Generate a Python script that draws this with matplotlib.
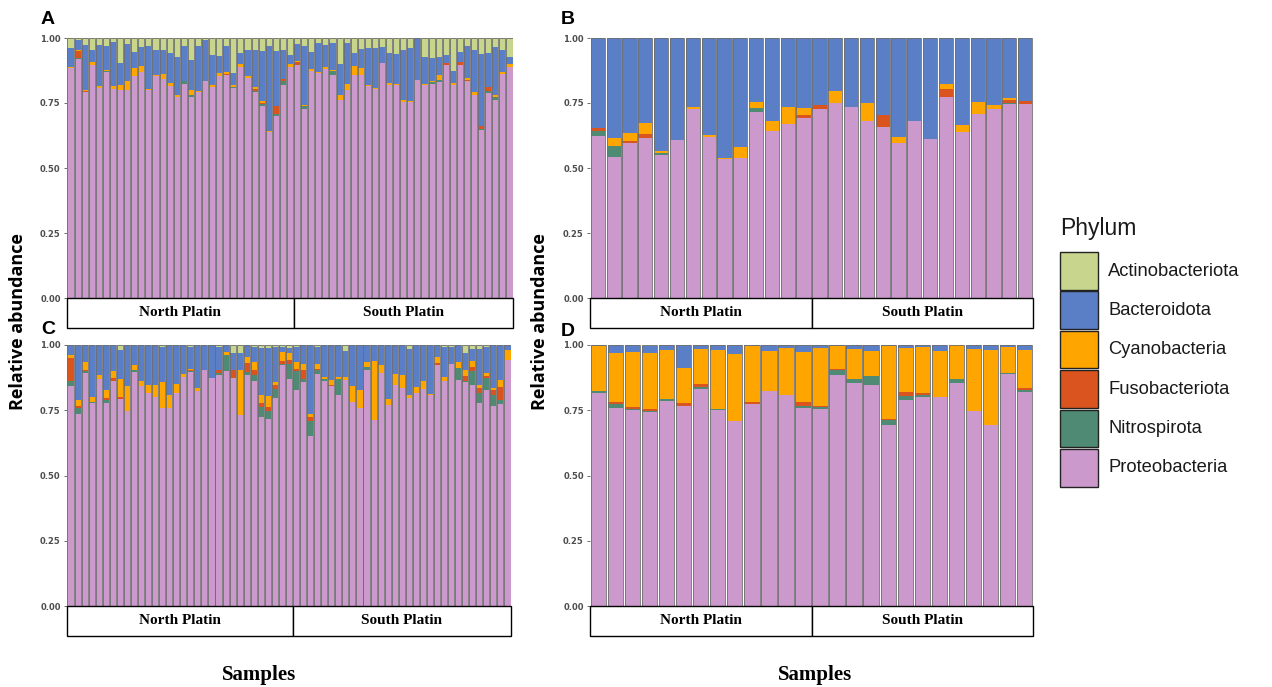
import matplotlib
matplotlib.use("Agg")
import matplotlib.pyplot as plt
from matplotlib.patches import Rectangle
import numpy as np

# ---------------- data ----------------
phyla = ["Actinobacteriota", "Bacteroidota", "Cyanobacteria", "Fusobacteriota", "Nitrospirota", "Proteobacteria"]
colors = ["#c8d68d", "#5b7fc6", "#ffa500", "#d9541f", "#4f8a74", "#cc99cc"]
groups = ["North Platin", "South Platin"]

# Panel A (32 North + 31 South)
A_n = [32, 31]
A_actino = [0.038,0.009,0.028,0.045,0.028,0.032,0.015,0.096,0.023,0.054,0.036,0.032,0.045,0.045,0.058,0.074,
            0.032,0.086,0.032,0.009,0.067,0.071,0.032,0.135,0.058,0.045,0.045,0.049,0.032,0.051,0.045,0.067,
            0.023,0.029,0.054,0.019,0.026,0.019,0.099,0.019,0.058,0.041,0.038,0.038,0.036,0.058,0.062,0.047,
            0.038,0.000,0.073,0.077,0.073,0.064,0.126,0.054,0.032,0.045,0.062,0.058,0.036,0.047,0.073]
A_bact = [0.073,0.036,0.171,0.047,0.158,0.092,0.171,0.083,0.141,0.062,0.073,0.164,0.096,0.094,0.115,0.146,
          0.135,0.115,0.171,0.158,0.113,0.064,0.100,0.045,0.041,0.103,0.145,0.195,0.324,0.212,0.112,0.033,
          0.064,0.229,0.065,0.113,0.087,0.103,0.119,0.156,0.049,0.074,0.141,0.154,0.060,0.115,0.114,0.192,
          0.205,0.163,0.103,0.087,0.071,0.032,0.047,0.038,0.122,0.164,0.278,0.132,0.185,0.085,0.026]
A_cyano = [0.006,0.004,0.005,0.010,0.006,0.003,0.010,0.022,0.035,0.032,0.023,0.005,0.006,0.018,0.013,0.005,
           0.000,0.017,0.004,0.000,0.008,0.013,0.005,0.009,0.012,0.006,0.006,0.006,0.004,0.000,0.000,0.013,
           0.005,0.005,0.006,0.003,0.005,0.004,0.022,0.026,0.035,0.026,0.004,0.004,0.000,0.009,0.006,0.006,
           0.003,0.000,0.006,0.006,0.017,0.000,0.009,0.000,0.006,0.012,0.000,0.000,0.008,0.006,0.013]
A_fuso = [0,0.028,0.005,0,0,0,0,0,0,0,0,0,0,0,0,0,
          0,0,0,0,0,0,0.004,0,0,0,0.006,0.005,0.003,0.029,0.010,0,
          0.010,0,0,0,0,0,0,0,0,0,0,0,0,0,0,0,
          0,0,0,0,0,0.009,0,0.010,0.006,0,0.009,0.012,0,0,0]
A_nitro = [0,0.004,0,0,0,0.003,0,0,0,0,0,0,0,0,0,0,
           0.009,0.008,0,0,0,0,0,0.004,0,0,0.005,0.008,0,0.006,0.013,0,
           0,0.008,0,0,0,0.018,0,0,0,0,0,0,0,0,0,0,
           0,0,0,0.006,0.009,0,0,0,0,0,0.005,0.010,0.009,0,0]
A_proteo = [0.882,0.919,0.791,0.897,0.808,0.869,0.804,0.799,0.801,0.853,0.868,0.799,0.853,0.844,0.814,0.774,
            0.824,0.774,0.794,0.833,0.813,0.853,0.859,0.808,0.890,0.846,0.792,0.737,0.637,0.701,0.821,0.887,
            0.897,0.728,0.874,0.865,0.882,0.856,0.760,0.799,0.859,0.859,0.817,0.804,0.904,0.818,0.818,0.754,
            0.754,0.837,0.818,0.823,0.831,0.895,0.818,0.897,0.833,0.779,0.646,0.788,0.763,0.862,0.888]

# Panel B (14 + 14)
B_n = [14, 14]
B_actino = [0]*28
B_bact = [0.347,0.386,0.364,0.328,0.435,0.392,0.264,0.374,0.460,0.418,0.245,0.318,0.267,0.268,
          0.258,0.204,0.264,0.251,0.296,0.382,0.318,0.390,0.178,0.335,0.247,0.258,0.229,0.242]
B_cyano = [0,0.029,0.031,0.043,0.006,0,0.010,0.005,0.007,0.042,0.026,0.038,0.065,0.028,
           0,0.047,0,0.068,0,0.023,0,0,0.018,0.025,0.047,0.015,0.011,0]
B_fuso = [0.011,0,0.010,0.012,0,0,0,0,0,0,0,0,0,0.013,
          0.015,0,0,0,0.045,0,0,0,0.030,0,0,0,0.009,0.012]
B_nitro = [0.019,0.044,0,0,0.009,0,0,0,0,0,0.012,0,0,0,
           0,0,0,0,0,0,0,0,0,0,0,0,0.006,0]
B_proteo = [0.623,0.541,0.595,0.617,0.550,0.608,0.726,0.621,0.533,0.540,0.717,0.644,0.668,0.691,
            0.727,0.749,0.736,0.681,0.659,0.595,0.682,0.610,0.774,0.640,0.706,0.727,0.745,0.746]

# Panel C (32 North + 31 South)
C_n = [32, 31]
C_actino = [0,0,0,0,0,0,0,0.018,0,0,0,0,0,0.008,0,0,0,0.008,0,0,0,0.008,0,0.031,0.031,0,0.008,0.011,0.011,0.008,0.008,0.011,
            0.009,0,0,0.008,0,0,0,0.022,0,0,0,0,0,0,0,0,0.014,0,0,0,0,0.008,0.008,0,0.031,0.015,0.014,0.008,0,0,0]
C_bact = [0.040,0.209,0.065,0.201,0.116,0.171,0.101,0.111,0.158,0.078,0.139,0.152,0.152,0.132,0.190,0.149,
          0.111,0.083,0.165,0.097,0.126,0.089,0.027,0.066,0.064,0.046,0.057,0.179,0.185,0.135,0.020,0.019,
          0.056,0.073,0.264,0.065,0.124,0.133,0.123,0.101,0.158,0.171,0.065,0.063,0.075,0.207,0.111,0.114,
          0.176,0.161,0.139,0.186,0.046,0.115,0.064,0.065,0.066,0.047,0.138,0.100,0.165,0.133,0.020]
C_cyano = [0.010,0.023,0.029,0.018,0.014,0.032,0.026,0.072,0.093,0.017,0.019,0.032,0.049,0.102,0.051,0.034,
           0.011,0.004,0.013,0,0,0,0.013,0,0.172,0.023,0.029,0.032,0.041,0.009,0.034,0.029,
           0.026,0.024,0.013,0.018,0.005,0.019,0.006,0.013,0.061,0.070,0.019,0.224,0.032,0.024,0.041,0.049,
           0.013,0.023,0.028,0.006,0.023,0.014,0,0.023,0.020,0.022,0.013,0.009,0.009,0.028,0.036]
C_fuso = [0.089,0.011,0.006,0,0,0.009,0.010,0.005,0.003,0,0,0,0,0,0,0,
          0,0.004,0,0,0,0.010,0,0.029,0,0.034,0.022,0.017,0.014,0.017,0.010,0.013,
          0.010,0.032,0.015,0.006,0,0.006,0,0,0,0,0,0,0,0,0,0,
          0,0,0,0,0.006,0,0,0,0.019,0.017,0.019,0.008,0.017,0.051,0]
C_nitro = [0.019,0.020,0.008,0.005,0,0.010,0,0,0,0.009,0,0,0,0,0,0,
           0,0.006,0,0,0,0.009,0.061,0,0,0.013,0.023,0.038,0.034,0.034,0.005,0.060,
           0.070,0.014,0.057,0.013,0.008,0,0.061,0,0,0,0.013,0,0,0,0,0,
           0,0,0,0,0,0,0,0.045,0.006,0.051,0.038,0.047,0.042,0.014,0]
C_proteo = [0.842,0.736,0.891,0.777,0.870,0.778,0.863,0.794,0.746,0.897,0.842,0.816,0.799,0.759,0.759,0.816,
            0.877,0.895,0.822,0.903,0.874,0.884,0.899,0.874,0.733,0.884,0.861,0.723,0.714,0.797,0.922,0.867,
            0.829,0.857,0.650,0.890,0.863,0.842,0.810,0.865,0.780,0.759,0.903,0.714,0.893,0.769,0.848,0.838,
            0.797,0.816,0.833,0.807,0.925,0.863,0.928,0.867,0.857,0.848,0.778,0.829,0.768,0.774,0.940]

# Panel D (13 + 13)
D_n = [13, 13]
D_actino = [0,0,0,0.003,0,0,0,0,0,0,0,0,0, 0,0,0,0,0,0,0,0,0,0,0,0,0]
D_bact = [0.002,0.031,0.027,0.028,0.018,0.088,0.014,0.020,0.034,0.003,0.024,0.011,0.027,
          0.011,0.002,0.015,0.024,0.005,0.011,0.008,0.022,0,0.015,0.018,0.008,0.020]
D_cyano = [0.175,0.187,0.212,0.214,0.187,0.134,0.134,0.225,0.258,0.216,0.154,0.182,0.191,
           0.222,0.089,0.116,0.094,0.278,0.170,0.177,0.178,0.131,0.237,0.287,0.098,0.145]
D_fuso = [0,0.007,0.006,0.009,0,0.010,0.014,0,0,0.006,0,0,0.017,
          0.005,0.003,0,0,0.006,0.014,0.005,0,0,0,0,0,0.009]
D_nitro = [0.007,0.016,0.005,0.004,0.011,0,0.005,0.004,0,0,0,0,0.006,
           0.006,0.022,0.015,0.037,0.016,0.015,0.010,0,0.015,0,0,0.005,0.006]
D_proteo = [0.816,0.759,0.750,0.742,0.784,0.768,0.833,0.751,0.708,0.775,0.822,0.807,0.759,
            0.756,0.884,0.854,0.845,0.695,0.790,0.800,0.800,0.854,0.748,0.695,0.889,0.820]

yticks = [0.00, 0.25, 0.50, 0.75, 1.00]
ytick_labels = ["0.00", "0.25", "0.50", "0.75", "1.00"]

# ---------------- layout ----------------
W, H = 1272, 687
fig = plt.figure(figsize=(W/100, H/100), dpi=100)
fig.patch.set_facecolor("white")

def rect(x0, y0, x1, y1):
    return [x0/W, 1 - y1/H, (x1-x0)/W, (y1-y0)/H]

def fxy(x, y):
    return x/W, 1 - y/H

panels = [
    ("A", A_n, [A_actino, A_bact, A_cyano, A_fuso, A_nitro, A_proteo], (67, 38, 513, 298), (48, 20)),
    ("B", B_n, [B_actino, B_bact, B_cyano, B_fuso, B_nitro, B_proteo], (590, 38, 1033, 298), (568, 20)),
    ("C", C_n, [C_actino, C_bact, C_cyano, C_fuso, C_nitro, C_proteo], (67, 345, 511, 606), (48, 330)),
    ("D", D_n, [D_actino, D_bact, D_cyano, D_fuso, D_nitro, D_proteo], (590, 345, 1033, 606), (568, 331)),
]

for letter, counts, series, (x0, y0, x1, y1), (lx, ly) in panels:
    n = sum(counts)
    data = np.array(series, dtype=float)  # rows: actino..proteo
    tot = data.sum(axis=0)
    data = data / tot  # relative abundance
    x = np.arange(n)
    ax = fig.add_axes(rect(x0, y0, x1, y1))
    width = 0.86 if n > 40 else 0.9
    bottom = np.zeros(n)
    # stack from bottom: Proteobacteria ... Actinobacteriota
    for i in range(len(phyla) - 1, -1, -1):
        ax.bar(x, data[i], bottom=bottom, width=width, color=colors[i], linewidth=0, zorder=2)
        bottom += data[i]
    ax.bar(x, bottom, width=width, fill=False, edgecolor="#6e6e6e", linewidth=0.6, zorder=3)
    ax.set_xlim(-0.5, n - 0.5)
    ax.set_ylim(0, 1)
    ax.set_xticks([])
    ax.set_yticks(yticks)
    ax.set_yticklabels(ytick_labels, fontsize=6, fontweight="bold", color="#4d4d4d")
    ax.tick_params(axis="y", length=2.5, width=0.6, color="#555555", pad=2)
    for s in ax.spines.values():
        s.set_visible(False)

    # strip below the panel
    sax = fig.add_axes(rect(x0, y1, x1, y1 + 30))
    sax.set_xlim(-0.5, n - 0.5)
    sax.set_ylim(0, 1)
    sax.axis("off")
    start = -0.5
    for g, c in zip(groups, counts):
        sax.add_patch(Rectangle((start, 0.01), c, 0.98, facecolor="white", edgecolor="black",
                                linewidth=1.0, clip_on=False))
        sax.text(start + c/2, 0.5, g, ha="center", va="center", fontsize=11, fontweight="bold",
                 family="Liberation Serif")
        start += c

    fig.text(*fxy(lx, ly), letter, ha="center", va="center", fontsize=14, fontweight="bold",
             family="Liberation Sans")

# axis titles
fig.text(*fxy(18, 322), "Relative abundance", rotation=90, ha="center", va="center",
         fontsize=13, fontweight="bold", family="Open Sans")
fig.text(*fxy(540, 322), "Relative abundance", rotation=90, ha="center", va="center",
         fontsize=13, fontweight="bold", family="Open Sans")
fig.text(*fxy(259, 675), "Samples", ha="center", va="center", fontsize=15, fontweight="bold",
         family="Liberation Serif")
fig.text(*fxy(815, 675), "Samples", ha="center", va="center", fontsize=15, fontweight="bold",
         family="Liberation Serif")

# legend
fig.text(*fxy(1060, 228), "Phylum", ha="left", va="center", fontsize=16.5, family="Liberation Sans",
         color="#1a1a1a")
key_top = 252
for i, (name, col) in enumerate(zip(phyla, colors)):
    ky = key_top + i * 39.4
    kx0, ky0 = fxy(1060, ky + 37.5)
    fig.add_artist(Rectangle((kx0, ky0), 38/W, 37.5/H, transform=fig.transFigure,
                             facecolor=col, edgecolor="#222222", linewidth=1.0))
    fig.text(*fxy(1108, ky + 19), name, ha="left", va="center", fontsize=13.2,
             family="Liberation Sans", color="#1a1a1a")

fig.savefig("out.png", dpi=100, facecolor="white")
